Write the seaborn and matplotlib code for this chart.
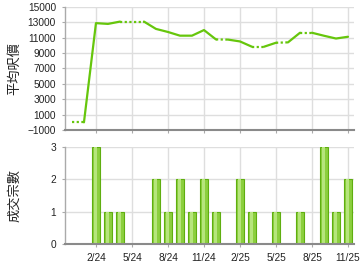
import matplotlib
matplotlib.use("Agg")
import matplotlib.pyplot as plt
import seaborn as sns
import pandas as pd
import numpy as np

months = ['12/23', '1/24', '2/24', '3/24', '4/24', '5/24', '6/24', '7/24', '8/24', '9/24',
          '10/24', '11/24', '12/24', '1/25', '2/25', '3/25', '4/25', '5/25', '6/25', '7/25',
          '8/25', '9/25', '10/25', '11/25']
avg_price = [0, 0, 12900, 12800, 13100, 13100, 13100, 12150, 11750, 11270,
             11270, 12000, 10780, 10760, 10520, 9830, 9830, 10350, 10400, 11650,
             11650, 11260, 10900, 11130]
deal_count = [0, 0, 3, 1, 1, 0, 0, 2, 1, 2,
              1, 2, 1, 0, 2, 1, 0, 1, 0, 1,
              0, 3, 1, 2]
tick_months = ['2/24', '5/24', '8/24', '11/24', '2/25', '5/25', '8/25', '11/25']
price_ticks = [-1000, 1000, 3000, 5000, 7000, 9000, 11000, 13000, 15000]
count_ticks = [0, 1, 2, 3]

sns.set_theme(style="white")
plt.rcParams['font.family'] = ['Liberation Sans', 'Noto Sans CJK TC', 'DejaVu Sans']

LINE = '#66c60c'
GRID = '#dedede'

fig = plt.figure(figsize=(3.6, 2.7), dpi=100)
ax1 = fig.add_axes([65/360, 1-130/270, 289/360, 123/270])
ax2 = fig.add_axes([65/360, 1-244/270, 289/360, 97/270])

# ---- line: solid where the ending month has deals, dotted otherwise
rows = []
run = -1
prev_kind = None
for i in range(len(months) - 1):
    kind = 'solid' if deal_count[i + 1] > 0 else 'dot'
    if kind != prev_kind:
        run += 1
        rows.append({'x': i, 'y': avg_price[i], 'run': run, 'kind': kind})
        prev_kind = kind
    rows.append({'x': i + 1, 'y': avg_price[i + 1], 'run': run, 'kind': kind})
df_line = pd.DataFrame(rows)

sns.lineplot(data=df_line, x='x', y='y', units='run', style='kind', estimator=None,
             sort=False, dashes={'solid': '', 'dot': (1, 1.1)}, color=LINE,
             lw=1.6, legend=False, ax=ax1, solid_joinstyle='round')

# ---- bars
df_bar = pd.DataFrame({'month': months, 'count': deal_count})
sns.barplot(data=df_bar, x='month', y='count', order=months, width=0.72,
            color='#8ccf3e', edgecolor='#5fae10', linewidth=0.8, saturation=1,
            ax=ax2)
sns.barplot(data=df_bar, x='month', y='count', order=months, width=0.25,
            color='#b6e57c', linewidth=0, saturation=1, ax=ax2)

tick_pos = [months.index(m) for m in tick_months]
for ax in (ax1, ax2):
    ax.set_xlim(-0.58, 23.5)
    ax.set_xticks(tick_pos)
    ax.grid(True, color=GRID, lw=1)
    ax.set_axisbelow(True)
    for s in ('top', 'right'):
        ax.spines[s].set_visible(False)
    ax.spines['left'].set_color('#aaaaaa')
    ax.spines['left'].set_linewidth(1)
    ax.spines['bottom'].set_color('#8a8a8a')
    ax.spines['bottom'].set_linewidth(1.5)
    ax.tick_params(axis='both', which='both', length=2.5, width=0.8, color='#aaaaaa',
                   labelsize=7.3, labelcolor='#222222', pad=4, left=True, bottom=True)
    ax.set_xlabel('')

ax1.set_ylim(-1000, 15000)
ax1.set_yticks(price_ticks)
ax1.set_xticklabels([])
ax1.set_ylabel('平均呎價', family=['Noto Sans CJK TC'], fontsize=9.5, color='#222222')
ax1.yaxis.set_label_coords(-0.152, 0.5)

ax2.set_ylim(0, 3)
ax2.set_yticks(count_ticks)
ax2.set_xticklabels(tick_months)
ax2.set_ylabel('成交宗數', family=['Noto Sans CJK TC'], fontsize=9.5, color='#222222')
ax2.yaxis.set_label_coords(-0.152, 0.5)

fig.savefig('out.png', dpi=100)
